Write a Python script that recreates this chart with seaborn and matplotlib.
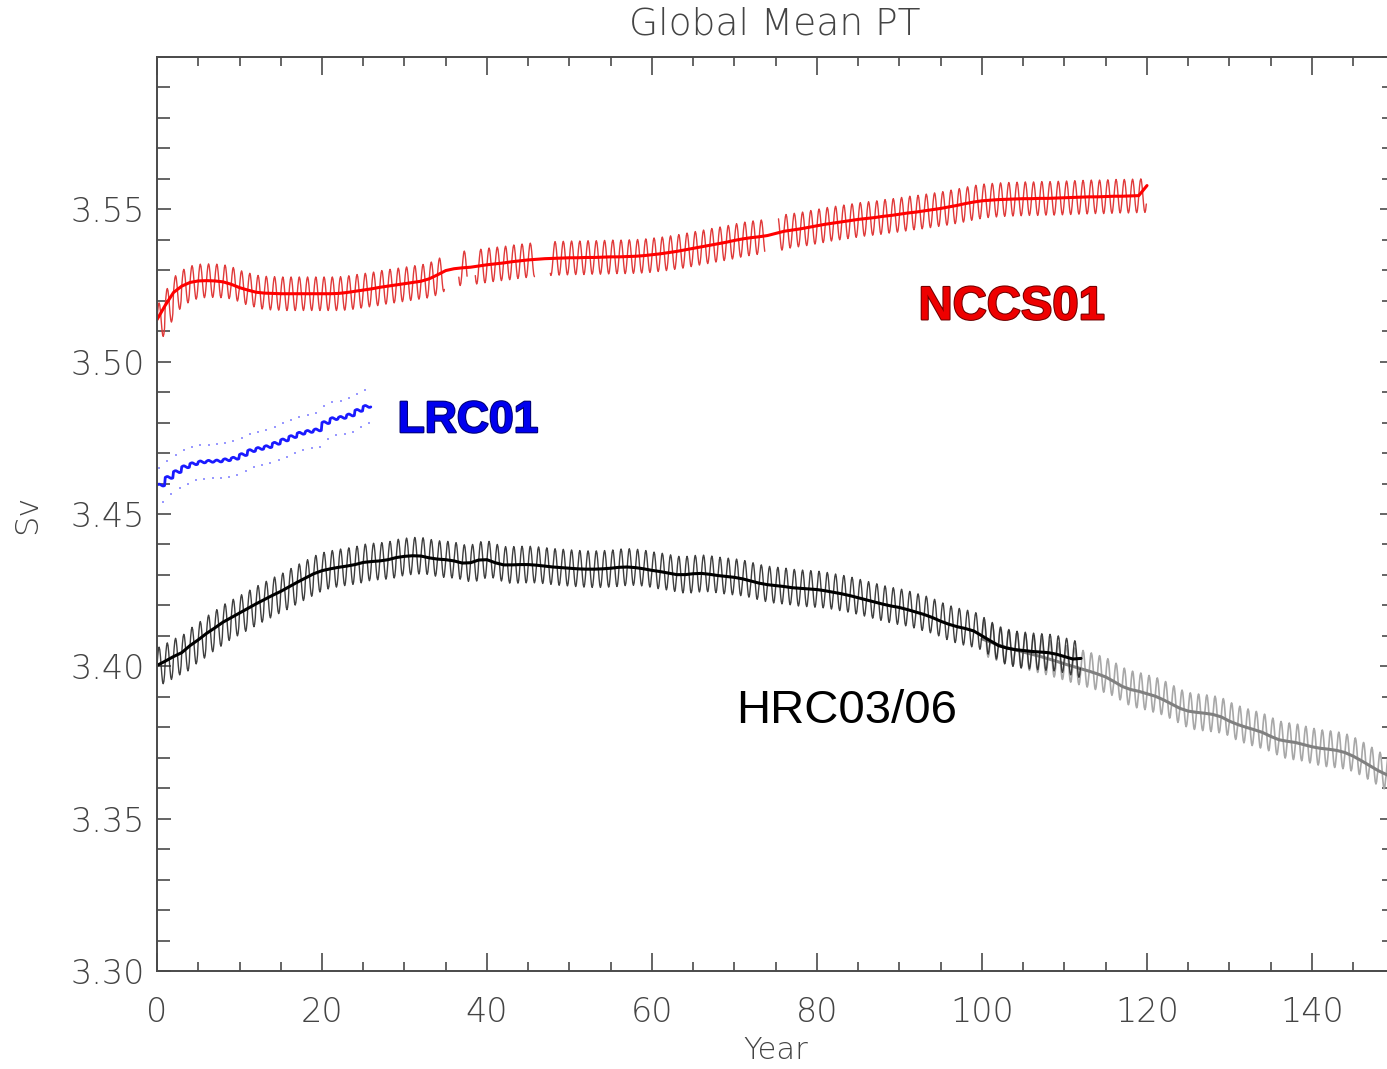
import matplotlib
matplotlib.use("Agg")
import matplotlib.pyplot as plt
import matplotlib.patheffects as pe
from matplotlib.ticker import MultipleLocator
import numpy as np
import pandas as pd
import seaborn as sns

# annual mean potential temperature, one value per model year
nccs_start = 0
nccs_mean = [
    3.5138, 3.5185, 3.5227, 3.5248, 3.5260, 3.5265, 3.5266, 3.5265, 3.5262, 3.5254,
    3.5243, 3.5235, 3.5228, 3.5225, 3.5224, 3.5223, 3.5223, 3.5223, 3.5223, 3.5223,
    3.5223, 3.5223, 3.5224, 3.5227, 3.5231, 3.5235, 3.5239, 3.5244, 3.5248, 3.5252,
    3.5256, 3.5260, 3.5264, 3.5272, 3.5285, 3.5299, 3.5305, 3.5308, 3.5310, 3.5314,
    3.5318, 3.5321, 3.5324, 3.5328, 3.5331, 3.5334, 3.5336, 3.5338, 3.5339, 3.5340,
    3.5341, 3.5341, 3.5342, 3.5342, 3.5343, 3.5344, 3.5344, 3.5345, 3.5346, 3.5348,
    3.5351, 3.5354, 3.5358, 3.5362, 3.5367, 3.5372, 3.5377, 3.5382, 3.5387, 3.5392,
    3.5398, 3.5403, 3.5407, 3.5410, 3.5414, 3.5421, 3.5428, 3.5432, 3.5436, 3.5441,
    3.5446, 3.5451, 3.5455, 3.5459, 3.5463, 3.5467, 3.5470, 3.5473, 3.5477, 3.5480,
    3.5484, 3.5488, 3.5491, 3.5495, 3.5499, 3.5503, 3.5508, 3.5513, 3.5519, 3.5524,
    3.5528, 3.5530, 3.5532, 3.5533, 3.5534, 3.5535, 3.5535, 3.5536, 3.5536, 3.5537,
    3.5538, 3.5539, 3.5540, 3.5541, 3.5541, 3.5542, 3.5543, 3.5543, 3.5544, 3.5545,
    3.5578,
]
nccs_amp = 0.0055
nccs_gaps = [(34.9, 36.5), (37.6, 38.5), (45.8, 47.6), (73.7, 75.3)]

lrc_start = 0
lrc_mean = [
    3.4595, 3.4620, 3.4639, 3.4655, 3.4665, 3.4671, 3.4673, 3.4674, 3.4678, 3.4683,
    3.4695, 3.4708, 3.4715, 3.4721, 3.4732, 3.4743, 3.4754, 3.4765, 3.4771, 3.4776,
    3.4800, 3.4813, 3.4817, 3.4825, 3.4840, 3.4853, 3.4864,
]
lrc_amp = 0.0055
lrc_wiggle = 0.0003

hrc03_start = 0
hrc03_mean = [
    3.4003, 3.4017, 3.4032, 3.4045, 3.4068, 3.4087, 3.4108, 3.4126, 3.4145, 3.4160,
    3.4175, 3.4190, 3.4205, 3.4219, 3.4233, 3.4246, 3.4261, 3.4276, 3.4290, 3.4304,
    3.4314, 3.4320, 3.4325, 3.4329, 3.4334, 3.4341, 3.4344, 3.4346, 3.4350, 3.4357,
    3.4361, 3.4363, 3.4362, 3.4356, 3.4352, 3.4350, 3.4346, 3.4339, 3.4340, 3.4349,
    3.4350, 3.4340, 3.4333, 3.4333, 3.4334, 3.4334, 3.4332, 3.4329, 3.4326, 3.4324,
    3.4322, 3.4320, 3.4319, 3.4319, 3.4320, 3.4322, 3.4325, 3.4326, 3.4324, 3.4320,
    3.4315, 3.4311, 3.4306, 3.4301, 3.4301, 3.4304, 3.4305, 3.4302, 3.4298, 3.4295,
    3.4292, 3.4287, 3.4280, 3.4273, 3.4268, 3.4265, 3.4262, 3.4258, 3.4256, 3.4254,
    3.4252, 3.4248, 3.4243, 3.4238, 3.4232, 3.4225, 3.4218, 3.4211, 3.4204, 3.4198,
    3.4193, 3.4186, 3.4178, 3.4170, 3.4160, 3.4148, 3.4138, 3.4130, 3.4124, 3.4116,
    3.4100, 3.4084, 3.4068, 3.4060, 3.4055, 3.4052, 3.4049, 3.4047, 3.4045, 3.4040,
    3.4032, 3.4024, 3.4026,
]
hrc03_amp = 0.006

hrc06_start = 100
hrc06_mean = [
    3.4090, 3.4080, 3.4070, 3.4061, 3.4054, 3.4047, 3.4040, 3.4033, 3.4025, 3.4017,
    3.4008, 3.4000, 3.3992, 3.3984, 3.3975, 3.3965, 3.3950, 3.3934, 3.3924, 3.3918,
    3.3910, 3.3902, 3.3890, 3.3876, 3.3862, 3.3853, 3.3849, 3.3846, 3.3842, 3.3834,
    3.3820, 3.3809, 3.3800, 3.3792, 3.3783, 3.3770, 3.3759, 3.3754, 3.3750, 3.3743,
    3.3736, 3.3731, 3.3728, 3.3724, 3.3717, 3.3705, 3.3690, 3.3674, 3.3658, 3.3645,
    3.3632,
]
hrc06_amp = 0.006

# shape of the seasonal cycle (fraction of amplitude, Jan..Dec)
season = [0.0, 0.5, 0.87, 1.0, 0.87, 0.5, 0.0, -0.5, -0.87, -1.0, -0.87, -0.5]

x_ticks = [0, 20, 40, 60, 80, 100, 120, 140]
y_ticks = [3.30, 3.35, 3.40, 3.45, 3.50, 3.55]


def monthly(start, means, amp, gaps=()):
    # monthly series = annual mean + seasonal cycle, split into segments at gaps
    rows = []
    seg = 0
    in_gap_prev = False
    for i, m in enumerate(means[:-1]):
        for k, s in enumerate(season):
            t = start + i + k / 12
            if any(a <= t <= b for a, b in gaps):
                if not in_gap_prev:
                    seg += 1
                in_gap_prev = True
                continue
            in_gap_prev = False
            rows.append((t, m + amp * s, seg, s))
    return pd.DataFrame(rows, columns=["year", "sv", "seg", "phase"])


def annual(start, means):
    return pd.DataFrame({"year": start + np.arange(len(means)), "sv": means})


sns.set_style("ticks")
plt.rcParams["font.family"] = ["DejaVu Sans"]
gray = "#4a4a4a"
txt = "#444444"

fig = plt.figure(figsize=(13.87, 10.69), dpi=100)
ax = fig.add_axes([157 / 1387, 98 / 1069, 1237.5 / 1387, 914 / 1069])

# HRC03 / HRC06
sns.lineplot(data=monthly(hrc06_start, hrc06_mean, hrc06_amp), x="year", y="sv",
             units="seg", estimator=None, color="#a8a8a8", lw=1.2, ax=ax)
sns.lineplot(data=annual(hrc06_start, hrc06_mean), x="year", y="sv",
             estimator=None, color="#808080", lw=2.2, ax=ax)
sns.lineplot(data=monthly(hrc03_start, hrc03_mean, hrc03_amp), x="year", y="sv",
             units="seg", estimator=None, color="#2a2a2a", lw=1.0, alpha=0.9, ax=ax)
sns.lineplot(data=annual(hrc03_start, hrc03_mean), x="year", y="sv",
             estimator=None, color="black", lw=2.2, ax=ax)

# NCCS01
sns.lineplot(data=monthly(nccs_start, nccs_mean, nccs_amp, nccs_gaps), x="year", y="sv",
             units="seg", estimator=None, color="#e03a3a", lw=1.0, ax=ax)
sns.lineplot(data=annual(nccs_start, nccs_mean), x="year", y="sv",
             estimator=None, color="#ff0000", lw=2.2, ax=ax)

# LRC01
lrc_env = monthly(lrc_start, lrc_mean, lrc_amp)
lrc_env = lrc_env[lrc_env["phase"].abs() == 1.0]
sns.scatterplot(data=lrc_env, x="year", y="sv", color="#8080ff", s=2.5,
                marker="s", linewidth=0, alpha=0.8, ax=ax)
sns.lineplot(data=monthly(lrc_start, lrc_mean, lrc_wiggle), x="year", y="sv",
             units="seg", estimator=None, color="#1a1aff", lw=2.0, ax=ax)

ax.set_xlim(0, 150)
ax.set_ylim(3.30, 3.60)
ax.set_xticks(x_ticks)
ax.set_yticks(y_ticks)
ax.set_yticklabels([f"{v:.2f}" for v in y_ticks])
ax.xaxis.set_minor_locator(MultipleLocator(5))
ax.yaxis.set_minor_locator(MultipleLocator(0.01))

for side in ["left", "right", "top", "bottom"]:
    ax.spines[side].set_visible(True)
    ax.spines[side].set_color(gray)
    ax.spines[side].set_linewidth(1.4)

ax.tick_params(axis="x", which="major", direction="in", length=13, width=1.2,
               top=True, color=gray, labelcolor=txt, labelsize=24, pad=18)
ax.tick_params(axis="x", which="minor", direction="in", length=6.5, width=1.2,
               top=True, color=gray)
ax.tick_params(axis="y", which="major", direction="in", length=10, width=1.2,
               right=True, color=gray, labelcolor=txt, labelsize=24, pad=9)
ax.tick_params(axis="y", which="minor", direction="in", length=9, width=1.2,
               right=True, color=gray)
for lab in ax.get_xticklabels() + ax.get_yticklabels():
    lab.set_fontweight("light")

ax.set_xlabel("Year", fontsize=22, color=txt, labelpad=5, fontweight="light")
ax.set_ylabel("Sv", fontsize=23, color=txt, labelpad=20, fontweight="light")
fig.text(775 / 1387, 1 - 24 / 1069, "Global Mean PT", ha="center", va="center",
         fontsize=27, color=txt, fontweight="light")

ax.text(103.6, 3.5178, "NCCS01", ha="center", va="center", fontsize=34,
        fontweight="bold", color="#ee0000", family=["Liberation Sans", "DejaVu Sans"],
        path_effects=[pe.withStroke(linewidth=1.5, foreground="#700000")])
ax.text(37.7, 3.4806, "LRC01", ha="center", va="center", fontsize=32,
        fontweight="bold", color="#0000ee", family=["Liberation Sans", "DejaVu Sans"],
        path_effects=[pe.withStroke(linewidth=1.5, foreground="#000070")])
ax.text(83.6, 3.3852, "HRC03/06", ha="center", va="center", fontsize=34,
        color="black", family=["Liberation Sans", "DejaVu Sans"])

fig.savefig("out.png", dpi=100)
